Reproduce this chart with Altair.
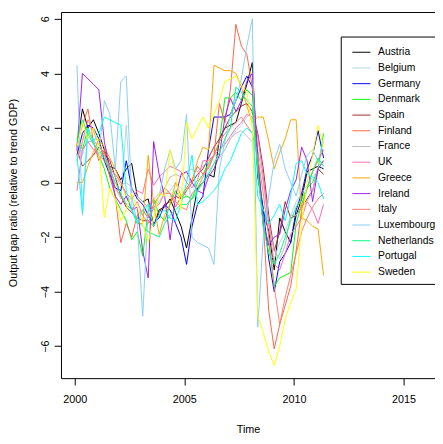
import altair as alt
import pandas as pd

# ---- data (quarterly, 2000 Q1 .. 2011 Q2) ----
countries = ["Austria", "Belgium", "Germany", "Denmark", "Spain", "Finland", "France", "UK",
             "Greece", "Ireland", "Italy", "Luxembourg", "Netherlands", "Portugal", "Sweden"]
colors = ["#000000", "#ADD8E6", "#0000FF", "#00FF00", "#A52A2A", "#FF6347", "#BEBEBE", "#FF69B4",
          "#FFA500", "#A020F0", "#FA8072", "#87CEFA", "#00FF7F", "#00FFFF", "#FFFF00"]

start_year = 2000.1
step = 0.25

Austria = [1.3, 2.7, 2.0, 2.3, 1.8, 1.2, 0.6, 0.5, 0.1, 0.5, 0.7, -0.5, -0.7, -0.6, -1.6, -1.0,
           -0.9, -0.6, -1.1, -1.6, -2.4, -1.3, -0.2, 0.0, 0.3, 0.2, 1.6, 2.0, 2.1, 2.2, 2.9, 3.6,
           4.4, 0.2, -1.0, -1.8, -3.2, -1.3, -1.8, -2.2, -1.2, -0.6, 0.4, 0.5, 0.6, 0.5]
Belgium = [1.5, 1.0, 1.8, 1.6, 1.2, 0.8, 0.2, -0.2, -0.6, 2.1, -0.9, -1.0, -1.2, -0.8, -1.0, -0.7,
           -0.4, -0.3, 0.0, -0.2, -0.5, -0.6, -0.3, 0.0, 0.4, 0.7, 1.0, 1.2, 1.6, 1.9, 2.1, 2.4,
           2.6, 0.5, -1.4, -2.6, -2.8, -2.2, -1.8, -1.2, -0.7, -0.4, -0.1, 0.2, 0.4, 0.6]
Germany = [1.0, 1.8, 2.1, 2.0, 1.6, 0.8, 0.3, -0.2, -0.3, 0.8, -0.2, -0.6, -0.8, -1.2, -1.5, -1.3,
           -0.8, -1.0, -1.5, -2.0, -3.0, -1.6, -0.8, -0.5, 1.2, 2.4, 2.4, 2.4, 2.5, 3.0, 3.5, 3.9,
           3.5, 0.5, -1.0, -2.8, -4.0, -2.9, -2.6, -2.2, -1.0, -0.4, 0.5, 1.0, 1.9, 0.9]
Denmark = [1.6, 1.2, 2.0, 1.5, 1.0, 0.5, -0.2, -0.6, -1.0, -1.4, -2.1, -1.8, -2.7, -1.0, -0.6, -1.2,
           -1.4, -0.8, -0.3, -0.6, -0.5, -0.6, 0.0, 0.3, 0.7, 1.0, 1.5, 3.1, 3.1, 3.3, 3.0, 3.4,
           3.2, 0.5, -1.6, -2.2, -3.8, -3.5, -3.4, -3.3, -1.5, -0.8, -0.2, 0.0, 0.5, 1.8]
Spain = [1.2, 0.6, 0.8, 1.0, 1.3, 1.1, 0.8, 0.2, -0.5, -0.9, -1.1, -1.3, -1.4, -1.4, -1.6, -1.1,
         -0.8, -0.7, -0.5, -0.6, -0.3, 0.0, 0.3, 0.5, 0.9, 1.3, 1.6, 2.0, 2.4, 2.6, 2.8, 2.9,
         2.6, 1.8, 0.5, -1.2, -2.5, -1.8, -0.7, -1.3, -1.2, -0.9, -0.6, -0.3, 0.5, 0.3]
Finland = [1.4, 2.1, 2.7, 1.5, 0.8, 1.2, 0.2, -0.5, -2.2, -1.5, -2.0, -1.2, -1.0, -1.3, -0.8, -0.5,
           -0.2, -0.4, -0.9, -0.5, -0.2, 0.1, 0.6, 0.3, 0.5, 1.0, 2.9, 2.2, 3.4, 5.8, 5.0, 4.7,
           3.5, 1.0, -1.5, -4.7, -6.1, -5.2, -4.5, -3.8, -2.5, -1.0, -0.2, 0.4, 0.8, 1.2]
France = [1.0, 1.2, 1.5, 1.5, 1.4, 1.0, 0.6, 0.2, -0.1, 0.0, -0.2, -0.5, -0.7, -0.9, -0.6, -0.4,
          -0.2, 0.2, 0.3, 0.2, 0.4, 0.5, 0.4, 0.6, 0.8, 1.0, 0.9, 1.2, 1.6, 1.8, 1.9, 1.7,
          1.5, 1.2, 0.0, -1.5, -2.5, -2.8, -2.3, -1.2, -1.2, -0.9, -0.7, -0.3, 0.6, 0.8]
UK = [-0.3, 1.2, 1.5, 1.2, 1.0, 0.8, 0.5, 0.3, 0.0, -0.4, -0.6, -0.3, -0.4, 0.5, -0.1, 0.2,
      0.4, 0.6, 0.5, 0.4, 0.0, -0.2, 0.1, 0.8, 0.8, 1.0, 1.2, 1.4, 1.7, 2.0, 2.2, 2.5,
      2.4, 1.7, 0.2, -1.5, -3.0, -3.2, -2.6, -1.9, -1.6, -1.3, -0.7, -1.0, -1.5, -0.8]
Greece = [0.0, 0.0, 0.6, 1.1, 1.6, 1.3, 0.9, 0.5, 0.0, -0.5, -1.0, -1.5, -1.5, 1.0, -0.8, -1.9,
          -1.2, -0.8, 0.0, -0.5, -0.3, 0.0, 0.8, 1.3, 1.2, 4.3, 4.2, 4.1, 4.1, 4.0, 3.5, 2.8,
          2.2, 2.4, 2.4, 1.5, 0.5, 1.1, 1.6, 2.3, 2.3, -1.3, -1.4, -1.6, -1.7, -3.4]
Ireland = [1.2, 4.0, 3.8, 3.6, 3.4, 1.5, 0.5, -0.5, -0.8, -0.5, -1.0, -0.9, -2.5, -3.5, 1.5, 0.3,
           -0.5, -2.1, -0.5, 0.3, 0.4, 0.0, -0.3, -0.4, 0.2, 0.5, 1.0, 2.4, 3.1, 2.6, 3.0, 3.7,
           4.0, 1.0, -1.5, -2.3, -2.0, -1.9, -1.0, -0.3, 0.1, 1.3, 0.8, -0.7, 0.5, 0.8]
Italy = [0.8, 1.5, 2.3, 1.9, 1.4, 1.0, 0.6, -0.2, -0.5, -0.8, -1.0, -0.7, -1.2, -1.5, -0.9, -0.8,
         -0.4, -0.4, -0.7, -0.9, -1.0, -0.4, -0.2, 0.2, 0.6, 1.0, 1.5, 1.8, 2.0, 2.2, 2.4, 2.1,
         1.8, 0.9, -0.4, -2.0, -3.8, -5.2, -4.2, -3.4, -2.6, -1.8, -1.3, -0.9, -0.6, -0.4]
Luxembourg = [4.3, -1.2, 2.0, 1.5, 1.0, 3.0, 2.5, 0.5, 3.7, 3.9, -0.5, -1.5, -4.9, -1.0, -1.0, -0.5,
              0.5, 1.2, 0.5, 0.8, 2.5, -2.0, -2.2, -2.3, -2.4, -3.0, 0.5, 1.5, 2.5, 3.0, 3.8, 5.0,
              6.0, -5.3, -2.0, -0.5, 0.8, 1.4, 0.5, 0.0, -0.5, 0.3, 1.0, 1.2, 0.8, 1.5]
Netherlands = [1.5, 2.3, 1.8, 1.4, 1.2, 0.9, 0.5, 0.0, -0.4, -0.8, -1.0, -1.4, -1.6, -1.8, -1.9, -2.0,
               -1.5, -1.2, -1.0, -0.8, -0.8, -0.6, -0.3, 0.0, 0.3, 0.7, 1.1, 1.6, 2.0, 3.5, 3.3, 3.0,
               2.8, 0.4, -1.6, -2.6, -3.0, -2.6, -2.0, -1.4, -0.9, -0.6, -0.2, 0.4, 0.9, 0.6]
Portugal = [1.0, -1.1, 2.0, 1.5, 1.8, 2.4, 2.3, 2.2, 2.1, -0.3, -1.0, -1.5, -1.0, -0.8, -1.6, -1.2,
            -1.0, -1.3, -1.4, -0.8, 0.0, 1.0, -0.8, -0.7, -0.5, -0.3, 0.0, 0.5, 0.8, 1.3, 1.8, 2.0,
            1.8, -0.5, -1.0, -1.5, -1.2, -0.8, -1.4, -0.5, 0.7, 0.8, 0.3, 0.2, 0.0, -0.6]
Sweden = [1.3, 2.2, 1.6, 2.0, 1.4, -1.3, -0.2, -0.6, -1.4, -1.0, -0.4, -0.9, -1.5, -2.2, -1.3, -0.4,
          -0.5, 1.2, 0.3, -1.0, 2.2, 1.6, 2.0, 2.4, 2.0, 2.5, 3.0, 3.7, 3.8, 3.9, 3.6, 3.3,
          2.0, -4.9, -5.5, -6.2, -6.7, -6.0, -5.0, -4.4, -3.9, -1.5, 0.0, 1.0, 2.1, 1.3]

series = [Austria, Belgium, Germany, Denmark, Spain, Finland, France, UK,
          Greece, Ireland, Italy, Luxembourg, Netherlands, Portugal, Sweden]

x_ticks = [2000, 2005, 2010, 2015]
y_ticks = [-6, -4, -2, 0, 2, 4, 6]

rows = []
for name, vals in zip(countries, series):
    assert len(vals) == 46, name
    for i, v in enumerate(vals):
        rows.append({"country": name, "year": start_year + step * i, "value": v, "ord": i})
df = pd.DataFrame(rows)

FONT = "Liberation Sans"
x_scale = alt.Scale(domain=[1999.373, 2016.433], nice=False, zero=False)
y_scale = alt.Scale(domain=[-7.17, 6.25], nice=False, zero=False)

lines = alt.Chart(df).mark_line(strokeWidth=1).encode(
    x=alt.X("year:Q", scale=x_scale,
            axis=alt.Axis(values=x_ticks, format="d", grid=False, tickSize=7, tickColor="black",
                          domainColor="black", labelColor="black", labelFont=FONT, labelFontSize=11,
                          labelPadding=9, labelFlush=False, title="Time", titleFont=FONT,
                          titleFontSize=11, titleFontWeight="normal", titleColor="black",
                          titleY=52, titleBaseline="middle")),
    y=alt.Y("value:Q", scale=y_scale,
            axis=alt.Axis(values=y_ticks, grid=False, tickSize=7, tickColor="black",
                          domainColor="black", labelColor="black", labelFont=FONT, labelFontSize=11,
                          labelAngle=-90, labelAlign="center", labelBaseline="middle",
                          labelPadding=8.5, labelFlush=False,
                          title="Output gap ratio (relative to trend GDP)", titleFont=FONT,
                          titleFontSize=11, titleFontWeight="normal", titleColor="black",
                          titleAngle=-90, titleX=-48, titleY=184, titleBaseline="middle")),
    color=alt.Color("country:N", sort=countries,
                    scale=alt.Scale(domain=countries, range=colors),
                    legend=alt.Legend(title=None, orient="none", legendX=285, legendY=25,
                                      direction="vertical", symbolType="stroke", symbolSize=339,
                                      symbolStrokeWidth=1, symbolOffset=5,
                                      labelFont=FONT, labelFontSize=10.5, labelLimit=200,
                                      labelColor="black", labelOffset=7, rowPadding=0,
                                      padding=6, strokeColor="black", fillColor="white")),
    order="ord:Q",
)

top = alt.Chart(df).mark_point(opacity=0).encode(
    x=alt.X("year:Q", scale=x_scale,
            axis=alt.Axis(orient="top", labels=False, ticks=False, title=None, grid=False,
                          domainColor="black")),
)

chart = alt.layer(lines, top).resolve_axis(x="independent").properties(
    width=381, height=373,
    autosize=alt.AutoSizeParams(type="none"),
    padding={"left": 54, "top": 0, "right": 0, "bottom": 63},
    background="white",
).configure_view(stroke=None)

chart.save("out.html", embed_options={"renderer": "svg", "actions": False})
